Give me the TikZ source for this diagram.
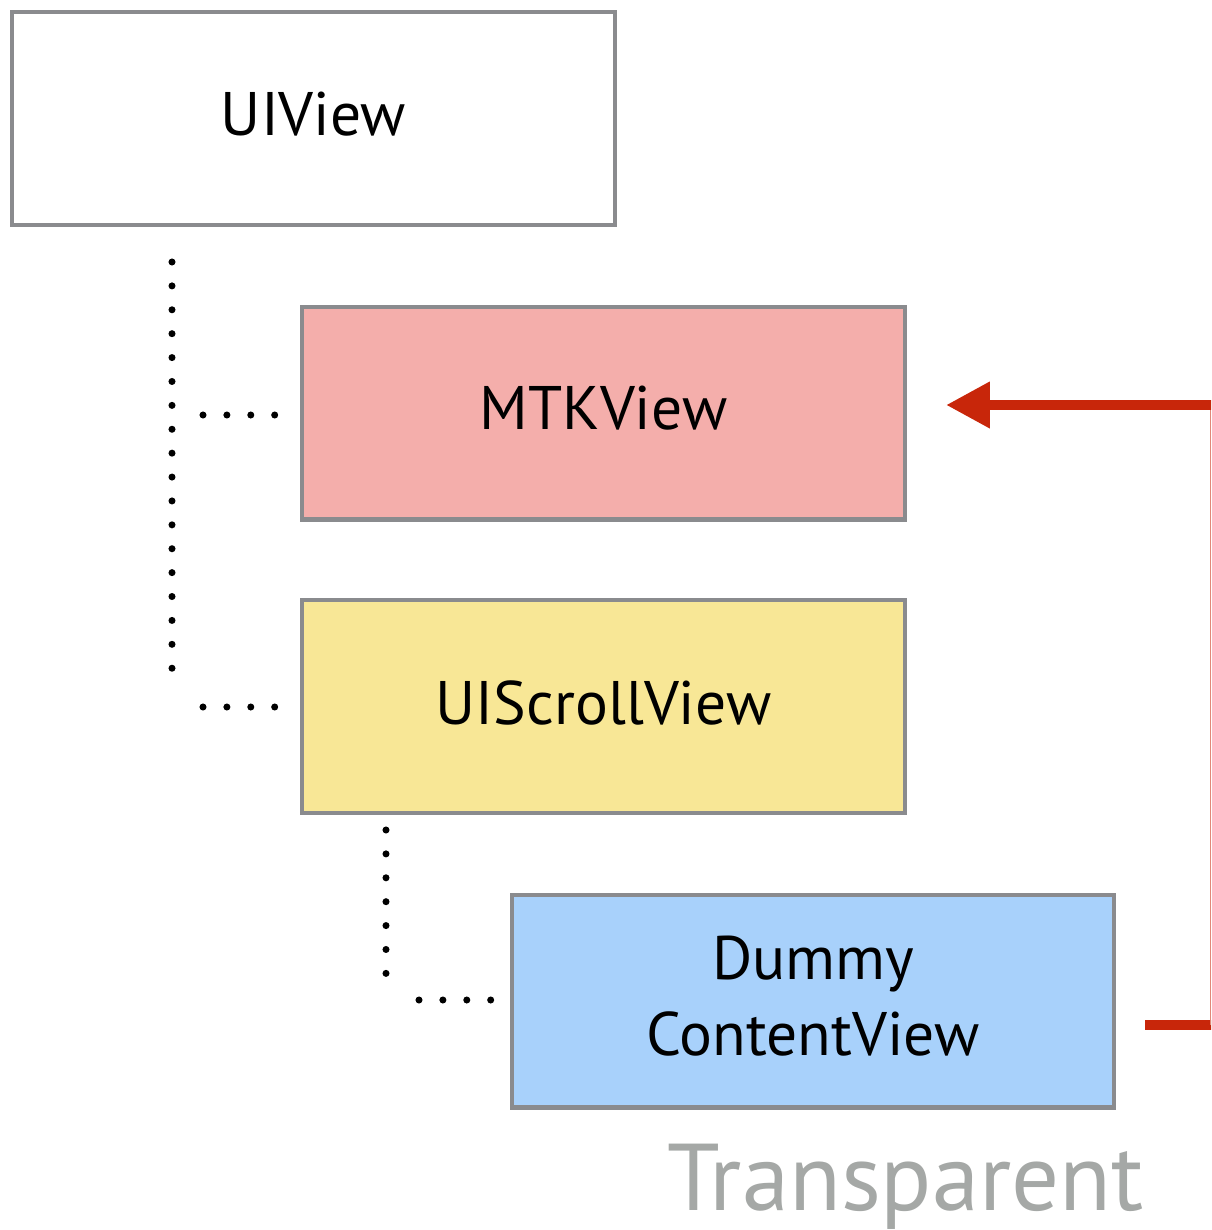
\documentclass[tikz,border=0pt]{standalone}
\usepackage{fontspec}
\setmainfont{PT Sans}
\usetikzlibrary{arrows.meta,calc}
\definecolor{edgegray}{HTML}{8A8B8E}
\definecolor{mtkfill}{HTML}{F4AEAB}
\definecolor{scrollfill}{HTML}{F8E796}
\definecolor{dummyfill}{HTML}{A8D1FB}
\definecolor{linkred}{HTML}{C8260A}
\definecolor{notegray}{HTML}{A5A8A6}
\tikzset{
  viewbox/.style={draw=edgegray, line width=2.3pt, minimum width=12.06cm, minimum height=4.26cm,
    inner sep=0pt},
  boxtext/.style={inner sep=0pt, font=\fontsize{35}{43.6}\selectfont, align=center},
  dotline/.style={line width=4pt, line cap=round, dash pattern=on 0pt off 13.6pt},
  redlink/.style={draw=linkred, line width=6pt}
}
\begin{document}
\begin{tikzpicture}[x=0.02cm,y=-0.02cm]
  \useasboundingbox (0,0) rectangle (1211,1230);
  \clip (0,0) rectangle (1211,1230);

  % view hierarchy boxes
  \node[viewbox, fill=white] (uiview) at (313.5,118.5) {};
  \node[viewbox, fill=mtkfill] (mtk) at (603.5,413) {};
  \node[viewbox, fill=scrollfill] (scroll) at (603.5,706.5) {};
  \node[viewbox, fill=dummyfill] (dummy) at (813,1001) {};

  % box titles
  \node[boxtext] (uiviewTitle) at ($(uiview)+(0,-4)$) {UIView};
  \node[boxtext] (mtkTitle) at ($(mtk)+(0,-5)$) {MTKView};
  \node[boxtext] (scrollTitle) at ($(scroll)+(0,-4)$) {UIScrollView};
  \node[boxtext] (dummyTitle) at ($(dummy)+(0,-5)$) {Dummy\\ContentView};
  \node[font=\fontsize{54}{60}\selectfont, text=notegray, anchor=base east] (note) at (1150,1210) {Transparent};

  % dotted hierarchy lines
  \coordinate (uiTrunkTop) at (172,262);
  \coordinate (uiTrunkBot) at (172,670);
  \coordinate (mtkStubA) at (203,415);
  \coordinate (mtkStubB) at (275,415);
  \coordinate (scrStubA) at (203,707);
  \coordinate (scrStubB) at (275,707);
  \coordinate (svTrunkTop) at (386,830);
  \coordinate (svTrunkBot) at (386,974);
  \coordinate (dStubA) at (419,1000);
  \coordinate (dStubB) at (491,1000);
  \draw[dotline] (uiTrunkTop) -- (uiTrunkBot);
  \draw[dotline] (mtkStubA) -- (mtkStubB);
  \draw[dotline] (scrStubA) -- (scrStubB);
  \draw[dotline] (svTrunkTop) -- (svTrunkBot);
  \draw[dotline] (dStubA) -- (dStubB);

  % red link from the dummy content view back to the metal view
  \coordinate (outA) at (1216,1025);
  \coordinate (outB) at (1216,405);
  \coordinate (tipAt) at (946,405);
  \draw[redlink] (dummy.east |- outA) ++(29,0) coordinate (outStart) -- (outA);
  \draw[draw=linkred!55, line width=1pt] (1210.5,1025) -- (1210.5,405);
  \draw[redlink, -{Triangle[length=25pt,width=25pt]}] (outB) -- (tipAt);
\end{tikzpicture}
\end{document}
